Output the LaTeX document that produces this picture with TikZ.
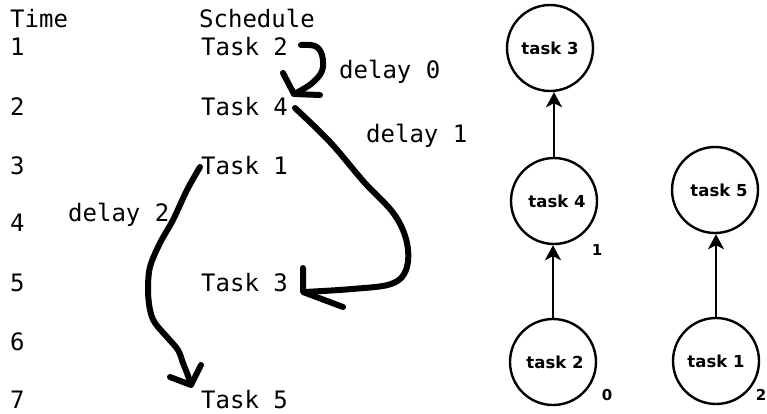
\documentclass[tikz,border=0pt]{standalone}
\usepackage{fontspec}
\setmainfont{DejaVu Sans}
\newfontfamily\monofont{DejaVu Sans Mono}
\usetikzlibrary{arrows.meta}
\begin{document}
\begin{tikzpicture}[x=1pt,y=-1pt,
  mono/.style={inner sep=0pt, anchor=base west, font=\monofont\fontsize{24}{28}\selectfont},
  taskc/.style={circle, draw, line width=2.4pt, minimum size=86pt, inner sep=0pt,
    font=\bfseries\fontsize{16.5}{19}\selectfont},
  tag/.style={inner sep=0pt, font=\bfseries\fontsize{15}{17}\selectfont},
  hand/.style={line width=6pt, line cap=round, line join=round},
  dep/.style={line width=2pt, -{Stealth[length=15pt, width=16pt, inset=4pt]}}]
\useasboundingbox[fill=white] (0,0) rectangle (767,413);

% time column
\node[mono] (time) at (10,27) {Time};
\node[mono] (r1) at (10,55.5) {1};
\node[mono] (r2) at (10,115.5) {2};
\node[mono] (r3) at (10,174.5) {3};
\node[mono] (r4) at (10,231.5) {4};
\node[mono] (r5) at (10,291.5) {5};
\node[mono] (r6) at (10,350.5) {6};
\node[mono] (r7) at (10,408.5) {7};

% schedule column
\node[mono] (sched) at (199,27) {Schedule};
\node[mono] (s2) at (201,55.5) {Task 2};
\node[mono] (s4) at (201,115.5) {Task 4};
\node[mono] (s1) at (201,174.5) {Task 1};
\node[mono] (s3) at (201,291.5) {Task 3};
\node[mono] (s5) at (201,408.5) {Task 5};

% delay notes
\node[mono] (d0) at (339,78.5) {delay 0};
\node[mono] (d1) at (366,142) {delay 1};
\node[mono] (d2) at (68,221) {delay 2};

% freehand arrow: task 2 -> task 4 (delay 0)
\draw[hand] plot[smooth, tension=0.6] coordinates
  {(301,45) (315,46) (322,55) (322,71) (311,84) (294,94)};
\draw[hand] (283,73) -- (294,94) -- (320,95);

% freehand arrow: task 4 -> task 3 (delay 1)
\draw[hand] plot[smooth, tension=0.6] coordinates
  {(295,108) (330,142) (364,182) (394,214) (407,243) (406,270) (391,284) (352,289) (304,292)};
\draw[hand] (303,268) -- (303,292) -- (343,307);

% freehand arrow: task 1 -> task 5 (delay 2)
\draw[hand] plot[smooth, tension=0.55] coordinates
  {(200,167) (187,190) (173,220) (160,243) (150,267) (148,290) (150,310) (155,323) (167,337) (178,350) (183,363) (187,373) (191,384)};
\draw[hand] (170,377) -- (191,385) -- (201,365);

% dependency graph
\node[taskc] (t3) at (550,48) {task 3};
\node[taskc] (t4) at (554,201) {\hspace*{6pt}task 4};
\node[taskc] (t2) at (553,362) {\hspace*{4pt}task 2};
\node[taskc] (t5) at (715,190) {\hspace*{8pt}task 5};
\node[taskc] (t1) at (716,361) {task 1};

\draw[dep] (t4.north) -- (t4.north |- t3.south);
\draw[dep] (t2.north) -- (t2.north |- t4.south);
\draw[dep] (t1.north) -- (t1.north |- t5.south);

\node[tag] (w4) at (597,250) {1};
\node[tag] (w2) at (607,395) {0};
\node[tag] (w1) at (761,395) {2};
\end{tikzpicture}
\end{document}
